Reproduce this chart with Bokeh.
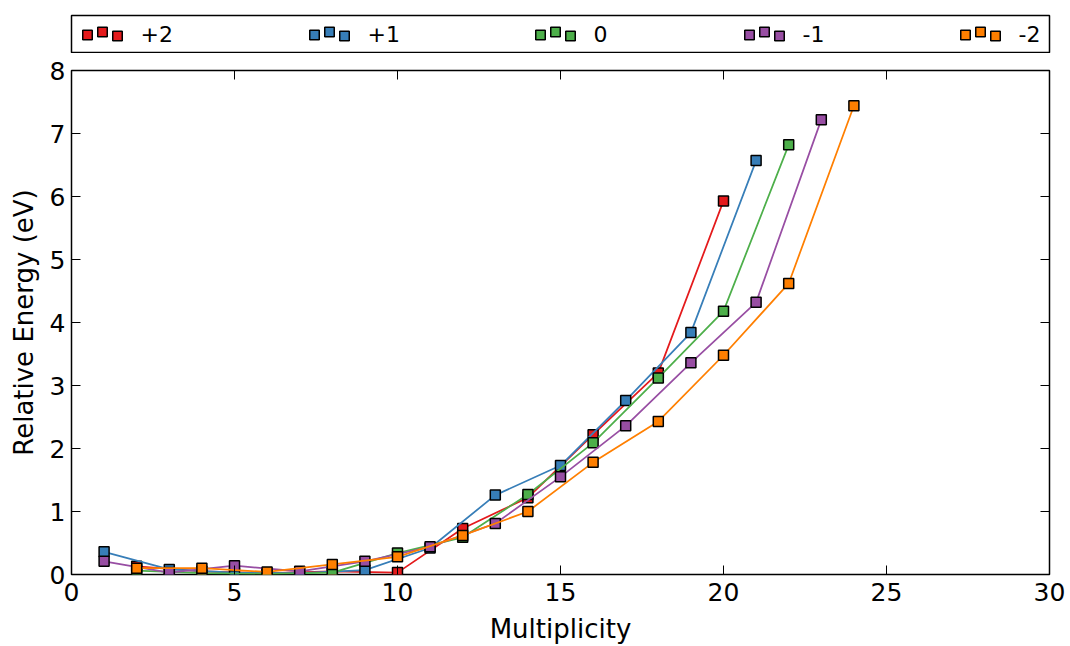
from bokeh.plotting import figure
from bokeh.layouts import column
from bokeh.models import Range1d, FixedTicker
from bokeh.core.properties import value
from bokeh.embed import file_html
from bokeh.resources import INLINE

# ---------------- data ----------------
series_names = ["+2", "+1", "0", "-1", "-2"]
series_colors = ["#e41a1c", "#377eb8", "#4daf4a", "#984ea3", "#ff7f00"]

mult_p2 = [2, 4, 6, 8, 10, 12, 14, 16, 18, 20]
energy_p2 = [0.13, 0.05, 0.02, 0.05, 0.03, 0.73, 1.22, 2.22, 3.20, 5.93]

mult_p1 = [1, 3, 5, 7, 9, 11, 13, 15, 17, 19, 21]
energy_p1 = [0.36, 0.08, 0.03, 0.02, 0.07, 0.42, 1.26, 1.73, 2.76, 3.84, 6.57]

mult_0 = [2, 4, 6, 8, 10, 12, 14, 16, 18, 20, 22]
energy_0 = [0.06, 0.02, 0.01, 0.03, 0.34, 0.59, 1.27, 2.09, 3.12, 4.18, 6.82]

mult_m1 = [1, 3, 5, 7, 9, 11, 13, 15, 17, 19, 21, 23]
energy_m1 = [0.21, 0.03, 0.14, 0.05, 0.21, 0.44, 0.81, 1.55, 2.36, 3.36, 4.32, 7.22]

mult_m2 = [2, 4, 6, 8, 10, 12, 14, 16, 18, 20, 22, 24]
energy_m2 = [0.10, 0.10, 0.04, 0.16, 0.28, 0.62, 1.00, 1.78, 2.43, 3.48, 4.62, 7.44]

x_ticks = [0, 5, 10, 15, 20, 25, 30]
y_ticks = [0, 1, 2, 3, 4, 5, 6, 7, 8]

series_x = [mult_p2, mult_p1, mult_0, mult_m1, mult_m2]
series_y = [energy_p2, energy_p1, energy_0, energy_m1, energy_m2]

FONT = "DejaVu Sans"
X_MIN, X_MAX, Y_MIN, Y_MAX = 0, 30, 0, 8
FRAME_W, FRAME_H = 978, 504
TICK_PX = 9

# ---------------- main plot ----------------
p = figure(frame_width=FRAME_W, frame_height=FRAME_H,
           x_range=Range1d(X_MIN, X_MAX), y_range=Range1d(Y_MIN, Y_MAX),
           output_backend="svg", toolbar_location=None,
           min_border_left=71, min_border_right=21,
           min_border_top=17, min_border_bottom=72)
p.grid.visible = False
p.outline_line_color = "black"
p.outline_line_width = 1.5
p.background_fill_color = "white"
p.border_fill_color = "white"

p.xaxis.ticker = FixedTicker(ticks=x_ticks, minor_ticks=[])
p.yaxis.ticker = FixedTicker(ticks=y_ticks, minor_ticks=[])
for ax in (p.xaxis[0], p.yaxis[0]):
    ax.axis_line_color = None
    ax.major_tick_in = TICK_PX
    ax.major_tick_out = 0
    ax.major_tick_line_color = "black"
    ax.minor_tick_line_color = None
    ax.major_label_text_font = FONT
    ax.major_label_text_font_size = "25px"
    ax.major_label_text_color = "black"
    ax.axis_label_text_font = FONT
    ax.axis_label_text_font_size = "26px"
    ax.axis_label_text_font_style = "normal"
    ax.axis_label_text_color = "black"
p.xaxis.axis_label = "Multiplicity"
p.yaxis.axis_label = "Relative Energy (eV)"
p.xaxis.major_label_standoff = 8
p.xaxis.axis_label_standoff = 10
p.yaxis.major_label_standoff = 6
p.yaxis.axis_label_standoff = 8

# mirrored inward ticks on the top and right spines
dy_tick = TICK_PX * (Y_MAX - Y_MIN) / FRAME_H
dx_tick = TICK_PX * (X_MAX - X_MIN) / FRAME_W
p.segment(x0=x_ticks, y0=[Y_MAX] * len(x_ticks), x1=x_ticks,
          y1=[Y_MAX - dy_tick] * len(x_ticks), line_color="black", line_width=1)
p.segment(x0=[X_MAX] * len(y_ticks), y0=y_ticks, x1=[X_MAX - dx_tick] * len(y_ticks),
          y1=y_ticks, line_color="black", line_width=1)

for xs, ys, col in zip(series_x, series_y, series_colors):
    p.line(xs, ys, line_color=col, line_width=1.75)
    p.scatter(xs, ys, marker="square", size=10, fill_color=col,
              line_color="black", line_width=1.5)

# ---------------- legend panel (box = this panel's frame outline) ----------------
lg = figure(frame_width=FRAME_W, frame_height=37,
            x_range=Range1d(71, 1049), y_range=Range1d(52, 15),
            output_backend="svg", toolbar_location=None,
            x_axis_location=None, y_axis_location=None,
            min_border_left=71, min_border_right=21,
            min_border_top=15, min_border_bottom=1)
lg.grid.visible = False
lg.outline_line_color = "black"
lg.outline_line_width = 1.5
lg.border_fill_color = "white"

legend_x0 = [82, 309, 535, 744, 960]   # layout: start of each legend entry (px)
marker_dx = [5, 20, 35]
marker_dy = [34.5, 31.5, 35.5]
for name, col, x0 in zip(series_names, series_colors, legend_x0):
    lg.scatter([x0 + d for d in marker_dx], marker_dy, marker="square", size=9.5,
               fill_color=col, line_color="black", line_width=1.5)
    lg.text([x0 + 58], [33.5], text=[name], text_font=value(FONT),
            text_font_size="22px", text_baseline="middle", text_align="left",
            text_color="black")

layout = column(lg, p, spacing=0)
open("out.html", "w").write(file_html(layout, INLINE))
